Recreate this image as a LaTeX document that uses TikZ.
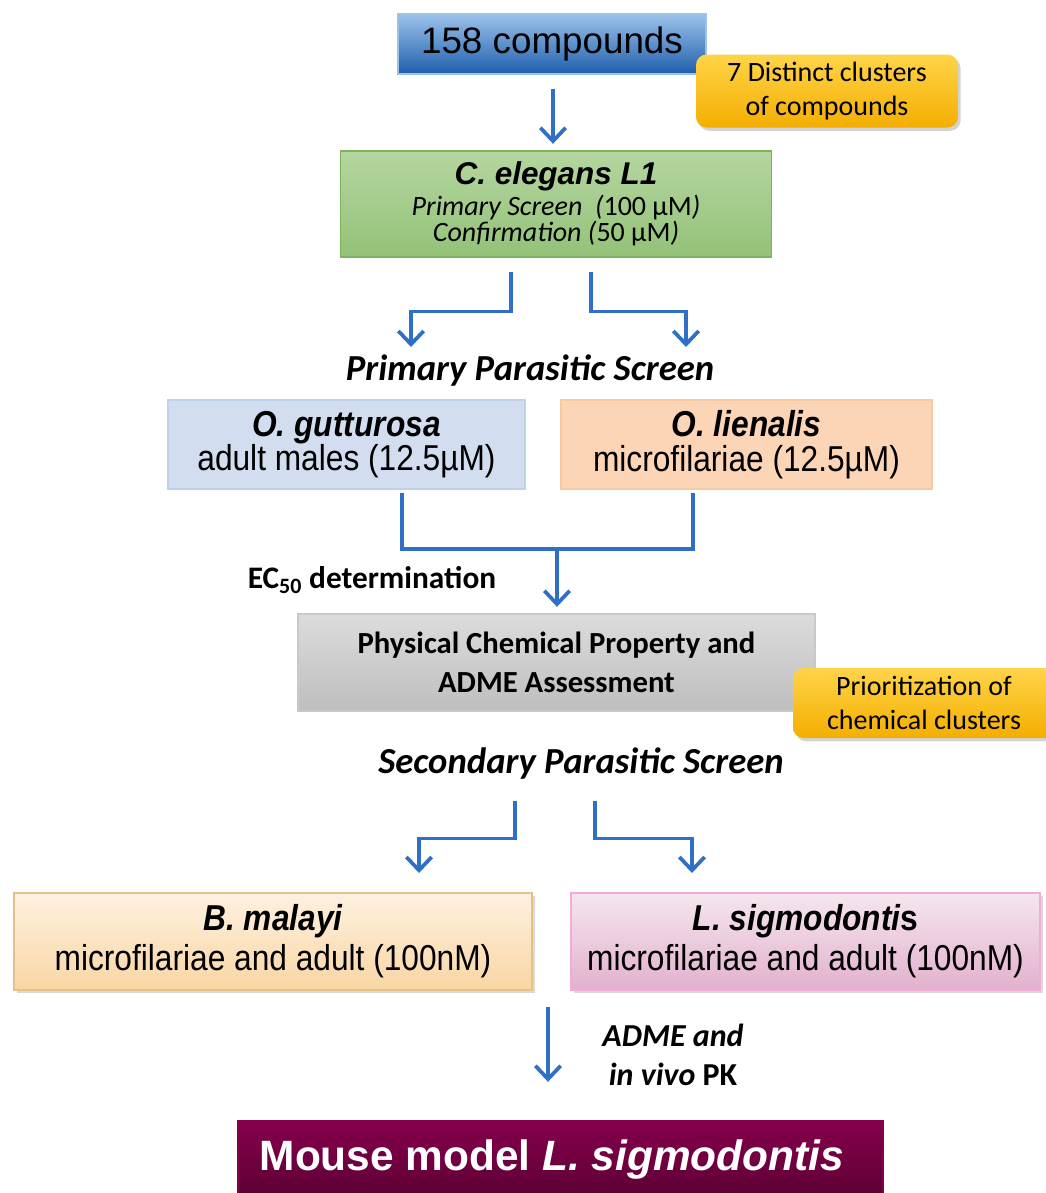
\documentclass[tikz,border=0pt]{standalone}
\usepackage{fontspec}
\setmainfont{Carlito}
\newfontfamily\arialfont{Liberation Sans}
\newfontfamily\narrowfont[FakeStretch=0.88]{Liberation Sans}
\usepackage{xcolor}
\usepackage{tikz}
\usetikzlibrary{arrows.meta,shadows}

\definecolor{flowblue}{HTML}{2F6FC6}
\definecolor{cmpdA}{HTML}{9CC2EA}
\definecolor{cmpdB}{HTML}{1E5FAD}
\definecolor{calloutA}{HTML}{FFD449}
\definecolor{calloutB}{HTML}{F4AE00}
\definecolor{elegansA}{HTML}{B5D6A0}
\definecolor{elegansB}{HTML}{93C278}
\definecolor{elegansline}{HTML}{7CB45C}
\definecolor{gutfill}{HTML}{D2DEEF}
\definecolor{gutline}{HTML}{BFD2EC}
\definecolor{lienfill}{HTML}{FBD5B6}
\definecolor{lienline}{HTML}{F8CAA4}
\definecolor{grayA}{HTML}{DCDCDC}
\definecolor{grayB}{HTML}{BEBEBE}
\definecolor{grayline}{HTML}{C9C9C9}
\definecolor{malA}{HTML}{FEF1E1}
\definecolor{malB}{HTML}{F9D6A3}
\definecolor{malline}{HTML}{E3C287}
\definecolor{sigA}{HTML}{F5E6EF}
\definecolor{sigB}{HTML}{E2B1CD}
\definecolor{sigline}{HTML}{F1ACDA}
\definecolor{mouseA}{HTML}{85004C}
\definecolor{mouseB}{HTML}{5C0034}

\tikzset{
  box/.style={draw, line width=0.8pt, align=center, inner sep=0pt},
  callout/.style={rounded corners=8pt, align=center, top color=calloutA, bottom color=calloutB,
    drop shadow={shadow xshift=2pt, shadow yshift=-2.5pt, opacity=0.35}},
  boxshadow/.style={drop shadow={shadow xshift=2pt, shadow yshift=-2.5pt, opacity=0.3}},
  link/.style={draw=flowblue, line width=2.8pt},
  flow/.style={link, -{Straight Barb[length=10pt,width=19pt,line width=2.8pt]}},
  heading/.style={font=\fontsize{27.5pt}{30pt}\selectfont\bfseries\itshape},
}

\begin{document}
\begin{tikzpicture}[x=0.75pt, y=-0.75pt]
\useasboundingbox (0,0) rectangle (1046,1193);

\node[box, draw=cmpdA, top color=cmpdA, bottom color=cmpdB, minimum width=231pt, minimum height=45pt,
  font=\arialfont\fontsize{27.6pt}{30pt}\selectfont] (cmpd) at (552,44) {158 compounds};
\node[callout, minimum width=196.5pt, minimum height=54.75pt, font=\fontsize{21pt}{25.5pt}\selectfont]
  (clusters) at (827,91) {7 Distinct clusters\\of compounds};

\node[box, draw=elegansline, top color=elegansA, bottom color=elegansB, minimum width=323.25pt, minimum height=79.5pt,
  font=\fontsize{21pt}{19.5pt}\selectfont] (elegans) at (556,204)
  {{\arialfont\bfseries\itshape\fontsize{23.6pt}{26pt}\selectfont C. elegans L1}\\[2pt]
   \textit{Primary Screen\ \ (}100 µM\textit{)}\\
   \textit{Confirmation (}50 µM\textit{)}};

\node[heading] (primary) at (530,371) {Primary Parasitic Screen};
\coordinate (pleft) at (411,347);
\coordinate (pright) at (686,347);

\node[box, draw=gutline, fill=gutfill, minimum width=267.75pt, minimum height=66.75pt,
  font=\narrowfont\fontsize{27pt}{26pt}\selectfont] (gutturosa) at (346.5,444.5)
  {{\bfseries\itshape O. gutturosa}\\adult males (12.5µM)};
\node[box, draw=lienline, fill=lienfill, minimum width=278.25pt, minimum height=66.75pt,
  font=\narrowfont\fontsize{27pt}{26pt}\selectfont] (lienalis) at (746.5,444.5)
  {{\bfseries\itshape O. lienalis}\\microfilariae (12.5µM)};
\coordinate (merge) at (557,549);

\node[font=\bfseries\fontsize{23.5pt}{26pt}\selectfont] (ec50) at (372,580) {EC\textsubscript{50} determination};

\node[box, draw=grayline, top color=grayA, bottom color=grayB, minimum width=387.75pt, minimum height=72.75pt,
  font=\bfseries\fontsize{23pt}{29pt}\selectfont] (physchem) at (556.5,662.5)
  {Physical Chemical Property and\\ADME Assessment};
\node[callout, minimum width=196.5pt, minimum height=52.5pt, font=\fontsize{21pt}{25.5pt}\selectfont]
  (prior) at (924,703) {Prioritization of\\chemical clusters};

\node[heading] (secondary) at (581,763) {Secondary Parasitic Screen};
\coordinate (sleft) at (419,873);
\coordinate (sright) at (692,873);

\node[box, boxshadow, draw=malline, top color=malA, bottom color=malB, minimum width=388.5pt, minimum height=72.75pt,
  font=\narrowfont\fontsize{27pt}{30pt}\selectfont] (malayi) at (273,941.5)
  {{\bfseries\itshape B. malayi}\\microfilariae and adult (100nM)};
\node[box, boxshadow, draw=sigline, top color=sigA, bottom color=sigB, minimum width=351.75pt, minimum height=72.75pt,
  font=\narrowfont\fontsize{27pt}{30pt}\selectfont] (sigmodontis) at (805.5,941.5)
  {{\bfseries\itshape L. sigmodonti}{\bfseries s}\\microfilariae and adult (100nM)};

\coordinate (pktop) at (548,1007);
\node[align=center, font=\bfseries\itshape\fontsize{24pt}{29pt}\selectfont] (pk) at (673,1055)
  {ADME and\\in vivo {\upshape PK}};

\node[box, draw=mouseA, top color=mouseA, bottom color=mouseB, minimum width=483.75pt, minimum height=58.5pt,
  text=white, font=\arialfont\bfseries\fontsize{31.8pt}{34pt}\selectfont] (mouse) at (560.5,1160)
  {Mouse model \textit{L. sigmodontis}\hspace*{13pt}};

\draw[flow, shorten <=10.5pt, shorten >=5pt] (cmpd.south -| 553,0) -- (elegans.north -| 553,0);
\draw[flow] (elegans.south) ++(-45,14) -- ++(0,40) -| (pleft);
\draw[flow] (elegans.south) ++(35,14) -- ++(0,40) -| (pright);
\draw[link] (gutturosa.south) ++(55.5,3) |- (merge);
\draw[link] (lienalis.south) ++(-53.5,3) |- (merge);
\draw[flow, shorten >=5pt] (merge) -- (merge |- physchem.north);
\draw[flow] (physchem.south) ++(-41.5,89) -- ++(0,38) -| (sleft);
\draw[flow] (physchem.south) ++(38.5,89) -- ++(0,38) -| (sright);
\draw[flow, shorten >=29pt] (pktop) -- (pktop |- mouse.north);
\end{tikzpicture}
\end{document}
